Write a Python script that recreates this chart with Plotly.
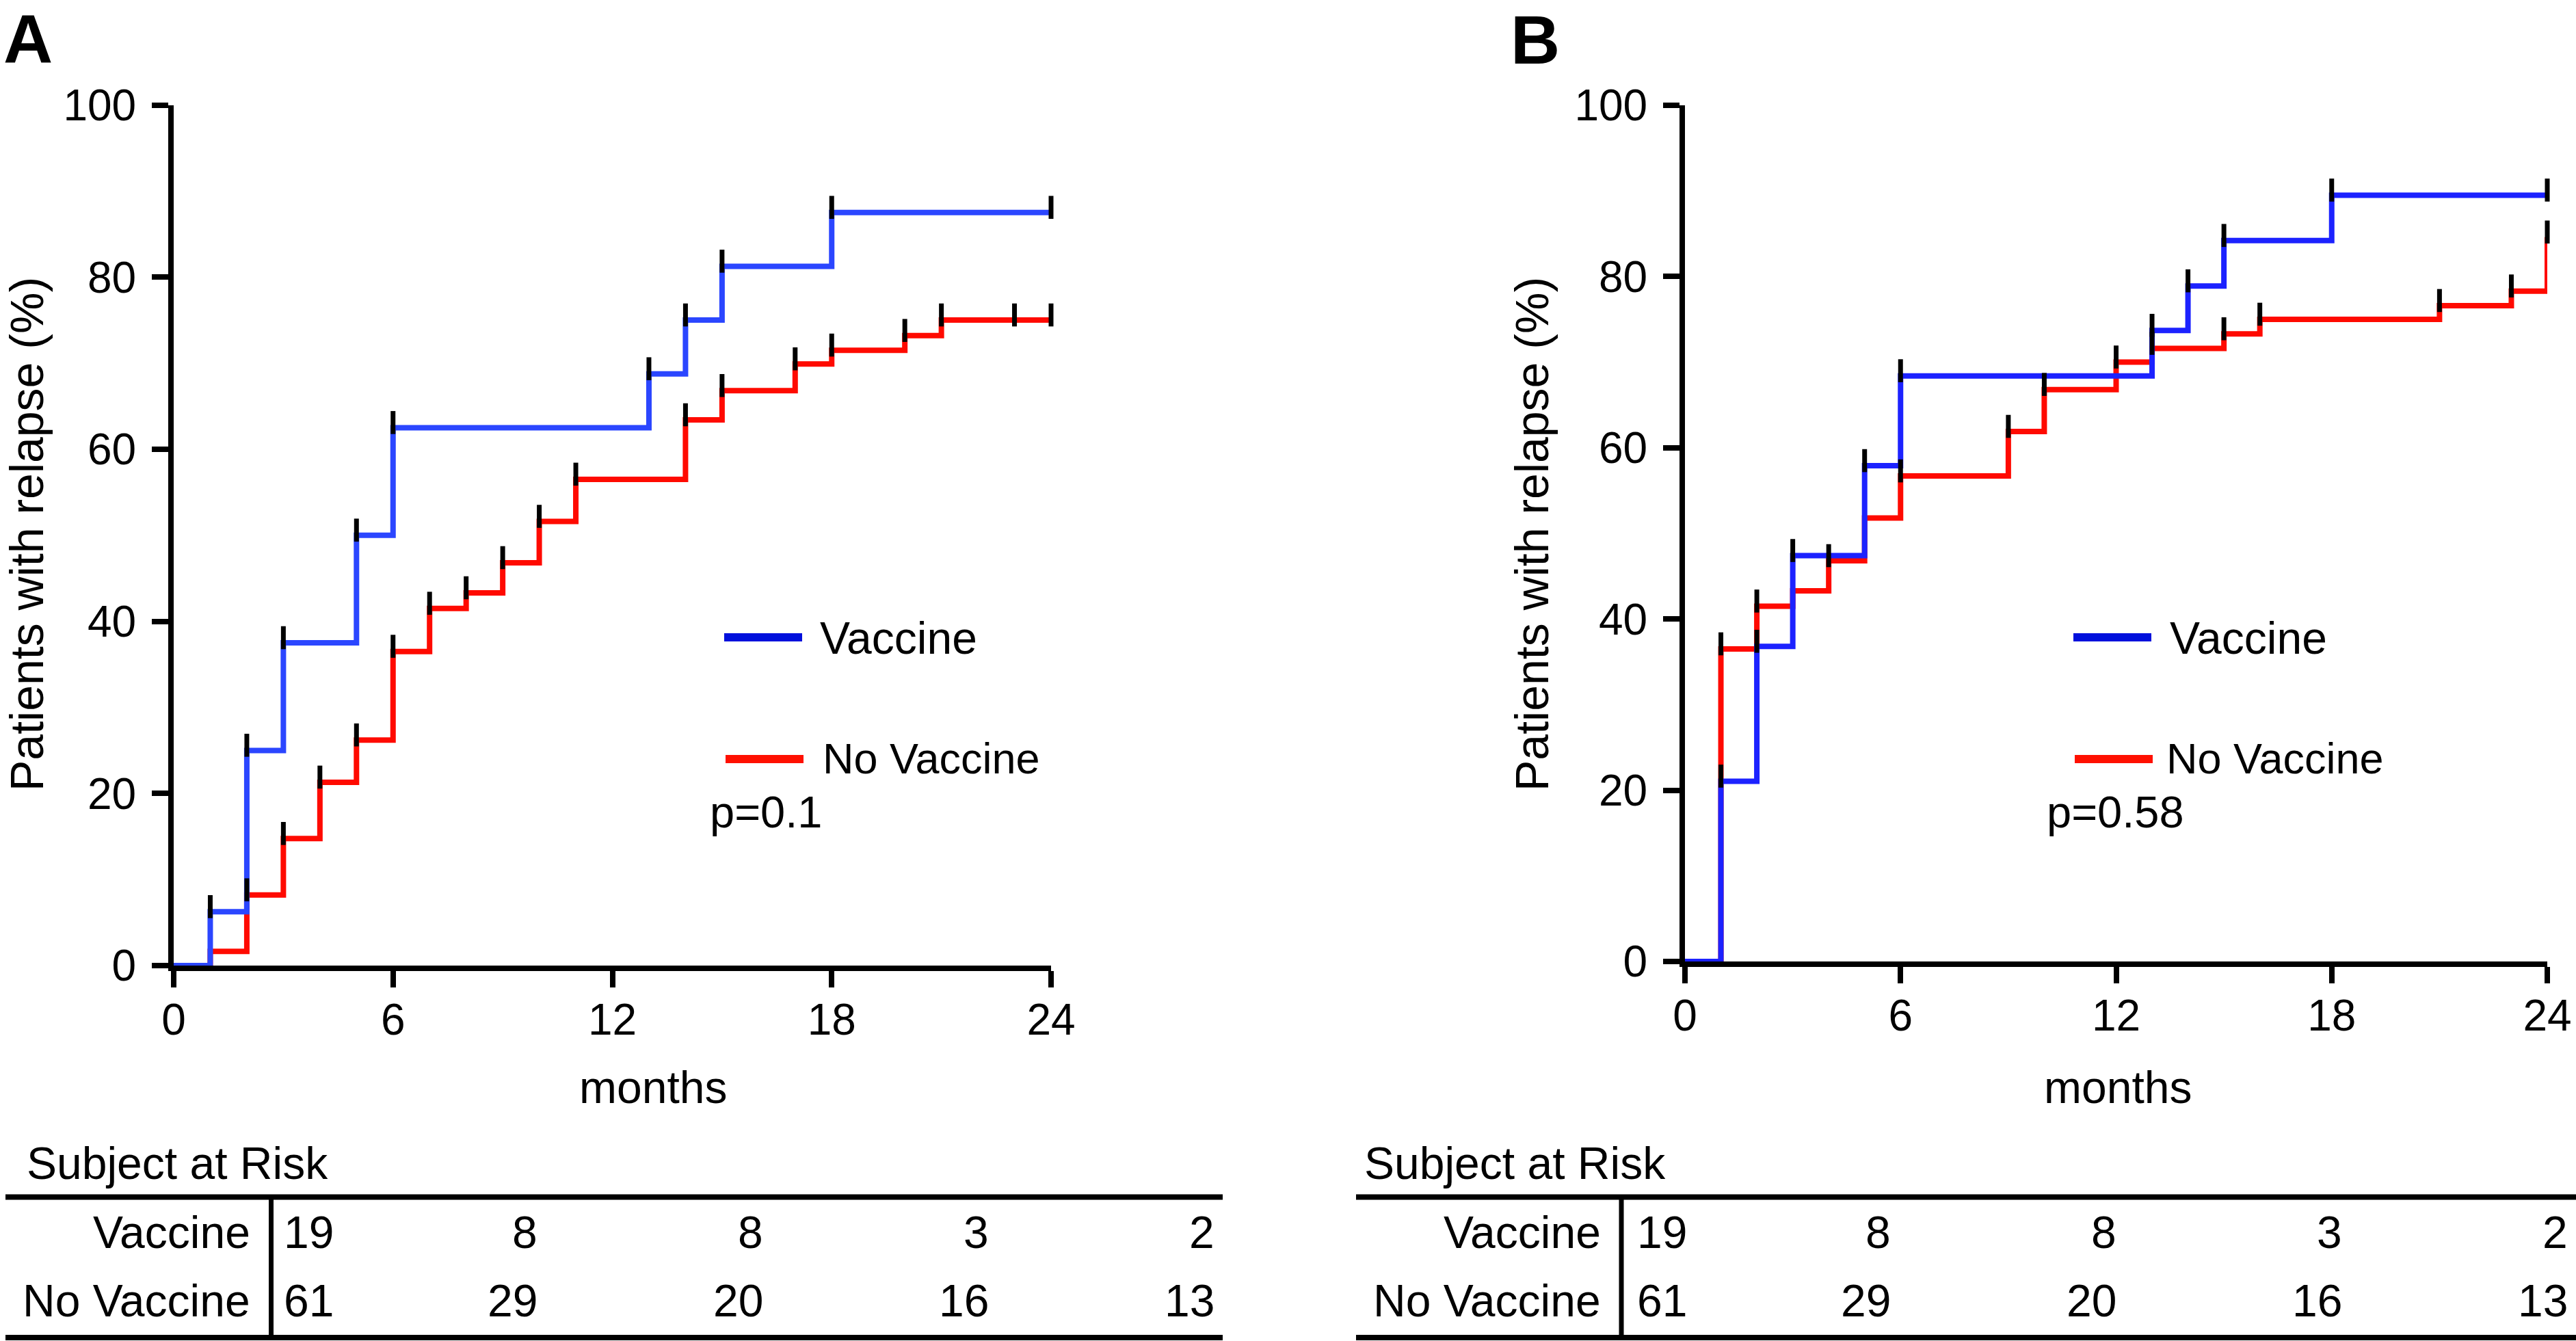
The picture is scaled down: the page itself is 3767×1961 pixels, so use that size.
import plotly.graph_objects as go

W, H = 3767, 1961
FONT = "Liberation Sans, Arial, Helvetica, sans-serif"

# ---------------- data ----------------
# Panel A
a_vac_t = [0, 1, 2, 3, 5, 6, 13, 14, 15, 18, 24]
a_vac_v = [0, 6.25, 25, 37.5, 50, 62.5, 68.75, 75, 81.25, 87.5, 87.5]
a_vac_cens = [1, 2, 3, 5, 6, 13, 14, 15, 18, 24]

a_nov_t = [0, 1, 2, 3, 4, 5, 6, 7, 8, 9, 10, 11, 14, 15, 17, 18, 20, 21, 24]
a_nov_v = [0, 1.64, 8.2, 14.75, 21.3, 26.2, 36.5, 41.5, 43.3, 46.8, 51.6, 56.5,
           63.4, 66.8, 69.9, 71.5, 73.2, 75.0, 75.0]
a_nov_cens = [2, 3, 4, 5, 6, 7, 8, 9, 10, 11, 14, 15, 17, 18, 20, 21, 23, 24]

# Panel B
b_vac_t = [0, 1, 2, 3, 5, 6, 13, 14, 15, 18, 24]
b_vac_v = [0, 21.05, 36.8, 47.4, 57.9, 68.4, 73.7, 78.9, 84.2, 89.5, 89.5]
b_vac_cens = [1, 2, 3, 5, 6, 13, 14, 15, 18, 24]

b_nov_t = [0, 1, 2, 3, 4, 5, 6, 9, 10, 12, 13, 15, 16, 21, 23, 24]
b_nov_v = [0, 36.5, 41.5, 43.3, 46.8, 51.8, 56.7, 61.9, 66.8, 70.0, 71.6, 73.3,
           75.0, 76.6, 78.3, 84.6]
b_nov_cens = [1, 2, 4, 6, 9, 10, 12, 13, 15, 16, 21, 23, 24]

x_ticks = [0, 6, 12, 18, 24]
y_ticks = [0, 20, 40, 60, 80, 100]

risk_rows = ["Vaccine", "No Vaccine"]
risk_vac = [19, 8, 8, 3, 2]
risk_nov = [61, 29, 20, 16, 13]
p_values = ["p=0.1", "p=0.58"]
panel_labels = ["A", "B"]
series_names = ["Vaccine", "No Vaccine"]

# ---------------- styling ----------------
BLUE_A = "#2b46ff"
BLUE_B = "#1c22ff"
RED = "#ff0a00"
LEG_BLUE = "#0010dc"
LEG_RED = "#ff1000"


def px(x):
    return x / W


def py(y):
    return 1 - y / H


def level_at(ts, vs, t):
    val = vs[0]
    for ti, vi in zip(ts, vs):
        if ti <= t:
            val = vi
    return val


fig = go.Figure()

panels = [
    dict(xa="x", ya="y", vt=a_vac_t, vv=a_vac_v, vc=a_vac_cens,
         nt=a_nov_t, nv=a_nov_v, nc=a_nov_cens, blue=BLUE_A),
    dict(xa="x2", ya="y2", vt=b_vac_t, vv=b_vac_v, vc=b_vac_cens,
         nt=b_nov_t, nv=b_nov_v, nc=b_nov_cens, blue=BLUE_B),
]

for p in panels:
    fig.add_trace(go.Scatter(x=p["nt"], y=p["nv"], mode="lines", line_shape="hv",
                             line=dict(color=RED, width=8), xaxis=p["xa"], yaxis=p["ya"],
                             showlegend=False, name="No Vaccine"))
    fig.add_trace(go.Scatter(x=p["vt"], y=p["vv"], mode="lines", line_shape="hv",
                             line=dict(color=p["blue"], width=8), xaxis=p["xa"], yaxis=p["ya"],
                             showlegend=False, name="Vaccine"))
    for ts, vs, cens in [(p["nt"], p["nv"], p["nc"]), (p["vt"], p["vv"], p["vc"])]:
        fig.add_trace(go.Scatter(
            x=cens, y=[level_at(ts, vs, c) + 0.6 for c in cens], mode="markers",
            marker=dict(symbol="line-ns", size=24, line=dict(color="black", width=7)),
            cliponaxis=False, xaxis=p["xa"], yaxis=p["ya"], showlegend=False,
            hoverinfo="skip"))

axis_common = dict(
    showline=True, linewidth=8, linecolor="black", ticks="outside", ticklen=24,
    tickwidth=8, tickcolor="black", showgrid=False, zeroline=False, automargin=False,
    tickfont=dict(family=FONT, size=64, color="black"),
)

fig.update_layout(
    template="none",
    width=W, height=H, margin=dict(l=0, r=0, t=0, b=0, pad=0), autosize=False,
    plot_bgcolor="white", paper_bgcolor="white", showlegend=False,
    xaxis=dict(domain=[px(254), px(1537)], range=[0, 24], tickvals=x_ticks,
               anchor="y", ticklabelstandoff=-8, **axis_common),
    yaxis=dict(domain=[py(1412), py(153.5)], range=[0, 100], tickvals=y_ticks,
               anchor="x", ticklabelstandoff=10, **axis_common),
    xaxis2=dict(domain=[px(2464), px(3725)], range=[0, 24], tickvals=x_ticks,
                anchor="y2", ticklabelstandoff=-8, **axis_common),
    yaxis2=dict(domain=[py(1406), py(154)], range=[0, 100], tickvals=y_ticks,
                anchor="x2", ticklabelstandoff=10, **axis_common),
)

ann = []
shapes = []


def text(x, y, s, size=66, xanchor="left", bold=False, angle=0):
    ann.append(dict(x=px(x), y=py(y), xref="paper", yref="paper", text=s,
                    showarrow=False, xanchor=xanchor, yanchor="middle", textangle=angle,
                    font=dict(family=FONT, size=size, color="black",
                              weight="bold" if bold else "normal")))


def hline(x0, x1, y, w, color="black"):
    shapes.append(dict(type="line", xref="paper", yref="paper", x0=px(x0), x1=px(x1),
                       y0=py(y), y1=py(y), line=dict(color=color, width=w)))


def vline(x, y0, y1, w):
    shapes.append(dict(type="line", xref="paper", yref="paper", x0=px(x), x1=px(x),
                       y0=py(y0), y1=py(y1), line=dict(color="black", width=w)))


# panel geometry (pixel offsets)
geo = [
    dict(label_x=3, label_y=57, ytitle_x=39, months_x=955, leg_x=1059, leg_tx=1197,
         leg_tx2=1201, p_x=1036, tab_x0=8, tab_x1=1788, subj_x=37, vline_x=396.5,
         row_r=368, c1=413, cols=[788, 1118, 1448, 1778]),
    dict(label_x=2207, label_y=58, ytitle_x=2240, months_x=3097, leg_x=3032, leg_tx=3171,
         leg_tx2=3166, p_x=2991, tab_x0=1983, tab_x1=3767, subj_x=1993, vline_x=2371,
         row_r=2343, c1=2392, cols=[2767, 3097, 3427, 3757]),
]

for i, g in enumerate(geo):
    text(g["label_x"], g["label_y"], panel_labels[i], size=100, bold=True)
    text(g["ytitle_x"], 781, "Patients with relapse (%)", size=68, xanchor="center", angle=-90)
    text(g["months_x"], 1590, "months", xanchor="center")
    # legend
    hline(g["leg_x"], g["leg_x"] + 114, 932, 12, LEG_BLUE)
    hline(g["leg_x"] + 2, g["leg_x"] + 116, 1110, 12, LEG_RED)
    text(g["leg_tx"], 933, series_names[0], size=66)
    text(g["leg_tx2"], 1109, series_names[1], size=63)
    text(g["p_x"], 1187, p_values[i], size=65)
    # risk table
    text(g["subj_x"], 1701, "Subject at Risk")
    hline(g["tab_x0"], g["tab_x1"], 1750.5, 8)
    hline(g["tab_x0"], g["tab_x1"], 1956, 8)
    vline(g["vline_x"], 1754, 1955, 7)
    text(g["row_r"], 1802, risk_rows[0], xanchor="right")
    text(g["row_r"], 1902, risk_rows[1], xanchor="right")
    for j, (v1, v2) in enumerate(zip(risk_vac, risk_nov)):
        if j == 0:
            text(g["c1"], 1802, str(v1))
            text(g["c1"], 1902, str(v2))
        else:
            text(g["cols"][j - 1], 1802, str(v1), xanchor="right")
            text(g["cols"][j - 1], 1902, str(v2), xanchor="right")

fig.update_layout(annotations=ann, shapes=shapes)
fig.write_html("out.html", config={"displayModeBar": False},
               post_script="document.body.style.margin='0';document.body.style.overflow='hidden';")
